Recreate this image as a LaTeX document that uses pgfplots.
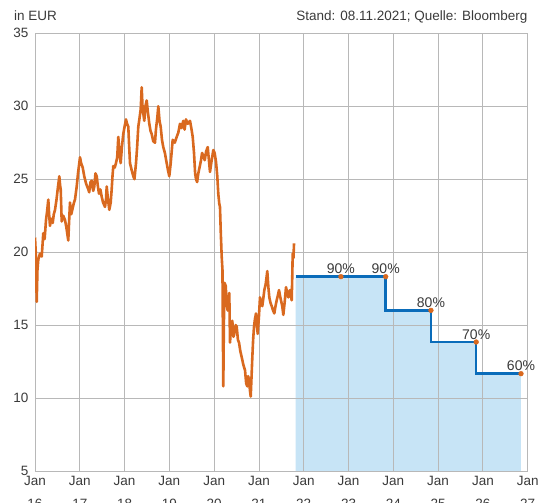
\documentclass[border=0pt]{standalone}
\usepackage{fontspec}
\setmainfont{Liberation Sans}
\usepackage{pgfplots}
\pgfplotsset{compat=1.18}
\definecolor{txt}{HTML}{3A3A3A}
\definecolor{gridc}{HTML}{B8B8B8}
\definecolor{org}{HTML}{D9691F}
\definecolor{blu}{HTML}{0A6CBA}
\definecolor{fillb}{HTML}{C7E4F6}
\begin{document}
\begin{tikzpicture}
\begin{axis}[
  name=ax, at={(0,0)}, anchor=south west,
  scale only axis, width=492.7bp, height=437.7bp,
  xmin=2016, xmax=2027, ymin=5, ymax=35,
  xtick={2016,2017,2018,2019,2020,2021,2022,2023,2024,2025,2026,2027},
  xticklabels={Jan\\[6bp]16,Jan\\[6bp]17,Jan\\[6bp]18,Jan\\[6bp]19,Jan\\[6bp]20,Jan\\[6bp]21,Jan\\[6bp]22,Jan\\[6bp]23,Jan\\[6bp]24,Jan\\[6bp]25,Jan\\[6bp]26,Jan\\[6bp]27},
  ytick={5,10,15,20,25,30,35},
  grid=major, major grid style={draw=gridc, line width=0.9bp},
  axis line style={draw=gridc, line width=0.9bp},
  major tick length=0pt, tick style={draw=none},
  set layers,
  every tick label/.append style={text=txt, font=\fontsize{13.5bp}{17bp}\selectfont},
  xticklabel style={align=center, anchor=north, yshift=-2bp},
  yticklabel style={anchor=east, xshift=-3bp},
  /pgf/number format/assume math mode=true,
]
% shaded area under the barrier steps
\addplot[on layer=axis background, const plot, draw=none, fill=fillb] coordinates {
(2021.82,18.32) (2023.83,16.01) (2024.84,13.84) (2025.85,11.67) (2026.85,11.67)
} \closedcycle;
% share price
\addplot[org, line width=2.6bp, line join=round] coordinates {
(2016.000,21.0) (2016.020,19.8) (2016.038,16.6) (2016.055,18.8) (2016.074,19.5)
(2016.110,19.9) (2016.150,19.7) (2016.170,20.6) (2016.185,21.3) (2016.215,20.9)
(2016.246,22.2) (2016.270,22.8) (2016.297,23.6) (2016.315,22.6) (2016.335,21.8)
(2016.360,22.3) (2016.395,22.0) (2016.420,22.6) (2016.447,22.9) (2016.480,23.6)
(2016.510,24.4) (2016.543,25.2) (2016.560,24.6) (2016.574,24.3) (2016.596,22.1)
(2016.630,22.5) (2016.670,22.2) (2016.700,21.7) (2016.743,20.8) (2016.760,22.0)
(2016.781,23.4) (2016.810,22.6) (2016.840,23.0) (2016.870,23.4) (2016.893,23.6)
(2016.931,24.5) (2016.960,25.4) (2017.005,26.5) (2017.030,26.1) (2017.065,25.8)
(2017.100,25.2) (2017.140,24.7) (2017.190,24.3) (2017.210,24.1) (2017.240,24.8)
(2017.266,24.9) (2017.300,24.2) (2017.324,24.5) (2017.350,25.4) (2017.378,25.2)
(2017.400,24.6) (2017.429,24.0) (2017.460,24.3) (2017.489,23.8) (2017.520,23.4)
(2017.563,23.1) (2017.585,23.6) (2017.601,24.5) (2017.630,23.6) (2017.659,22.9)
(2017.690,23.4) (2017.712,24.3) (2017.730,25.2) (2017.748,25.9) (2017.780,25.8)
(2017.808,26.1) (2017.835,26.5) (2017.860,27.9) (2017.885,26.8) (2017.913,26.1)
(2017.940,27.2) (2017.971,28.1) (2018.000,28.6) (2018.032,29.1) (2018.055,28.8)
(2018.083,28.6) (2018.100,27.4) (2018.121,26.1) (2018.160,25.6) (2018.195,25.2)
(2018.220,25.0) (2018.255,26.1) (2018.280,27.2) (2018.306,28.6) (2018.330,29.1)
(2018.360,29.8) (2018.382,31.3) (2018.400,30.0) (2018.418,29.5) (2018.440,29.0)
(2018.465,30.0) (2018.494,30.4) (2018.520,29.6) (2018.552,28.8) (2018.580,28.3)
(2018.605,28.1) (2018.640,27.6) (2018.679,27.5) (2018.700,28.4) (2018.730,29.2)
(2018.753,30.0) (2018.780,29.0) (2018.806,28.6) (2018.835,27.7) (2018.864,27.2)
(2018.900,26.8) (2018.940,26.1) (2018.970,25.6) (2018.998,25.2) (2019.030,26.1)
(2019.074,27.7) (2019.120,27.5) (2019.164,27.9) (2019.200,28.2) (2019.237,28.8)
(2019.270,28.5) (2019.311,29.0) (2019.340,28.4) (2019.371,29.1) (2019.410,28.8)
(2019.461,29.0) (2019.490,28.5) (2019.521,27.9) (2019.550,26.8) (2019.575,25.4)
(2019.595,25.0) (2019.620,24.8) (2019.646,25.4) (2019.680,25.9) (2019.706,26.3)
(2019.730,26.8) (2019.758,26.6) (2019.790,26.3) (2019.820,26.9) (2019.856,27.2)
(2019.880,26.4) (2019.907,25.5) (2019.940,26.2) (2019.981,27.0) (2020.010,26.8)
(2020.041,26.2) (2020.070,25.2) (2020.092,24.0) (2020.115,23.3) (2020.130,23.1)
(2020.146,21.5) (2020.168,19.7) (2020.185,18.8) (2020.204,10.8) (2020.215,14.5)
(2020.228,17.9) (2020.258,17.7) (2020.280,16.4) (2020.302,16.0) (2020.320,16.8)
(2020.338,17.2) (2020.354,13.8) (2020.380,15.0) (2020.405,15.3) (2020.430,14.2)
(2020.450,14.4) (2020.480,15.0) (2020.503,14.9) (2020.530,14.0) (2020.555,13.8)
(2020.585,13.2) (2020.615,12.8) (2020.650,12.3) (2020.689,11.9) (2020.715,11.0)
(2020.740,10.8) (2020.760,11.5) (2020.778,11.2) (2020.800,10.5) (2020.816,10.1)
(2020.835,11.5) (2020.852,12.8) (2020.870,14.0) (2020.890,14.9) (2020.910,15.4)
(2020.934,15.8) (2020.955,15.0) (2020.972,14.4) (2021.000,15.6) (2021.023,16.9)
(2021.050,16.5) (2021.075,16.3) (2021.100,16.9) (2021.120,17.4) (2021.150,17.8)
(2021.186,18.7) (2021.210,17.6) (2021.231,16.9) (2021.260,16.5) (2021.285,16.3)
(2021.315,16.0) (2021.343,15.8) (2021.370,16.3) (2021.396,16.7) (2021.420,17.0)
(2021.448,17.4) (2021.470,17.0) (2021.492,16.7) (2021.520,16.3) (2021.544,15.7)
(2021.575,16.6) (2021.604,17.6) (2021.630,17.2) (2021.655,16.9) (2021.675,17.3)
(2021.693,17.4) (2021.713,17.0) (2021.731,16.7) (2021.745,18.5) (2021.753,19.9)
(2021.770,19.6) (2021.783,20.6)
};
% barrier step line
\addplot[blu, line width=2.6bp, const plot, line join=miter] coordinates {
(2021.82,18.32) (2023.83,16.01) (2024.84,13.84) (2025.85,11.67) (2026.85,11.67)
};
% observation dates
\addplot[only marks, mark=*, mark size=2.4bp, mark options={draw=org, fill=org},
  nodes near coords, point meta=explicit symbolic,
  every node near coord/.append style={text=txt, font=\fontsize{14bp}{16bp}\selectfont, anchor=south, inner sep=2.5bp}]
  table[meta=lab] {
x y lab
2022.83 18.32 90\%
2023.83 18.32 90\%
2024.84 16.01 80\%
2025.85 13.84 70\%
2026.85 11.67 60\%
};
\end{axis}
\node[anchor=base west, inner sep=0, text=txt, font=\fontsize{13.5bp}{16bp}\selectfont]
  at ([xshift=-21bp, yshift=12.6bp]ax.north west) {in EUR};
\node[anchor=base east, inner sep=0, text=txt, font=\fontsize{13.5bp}{16bp}\selectfont]
  at ([yshift=12.6bp]ax.north east) {Stand: 08.11.2021; Quelle: Bloomberg};
\pgfresetboundingbox
\useasboundingbox (-35bp,-32bp) rectangle (515bp,471bp);
\end{tikzpicture}
\end{document}
